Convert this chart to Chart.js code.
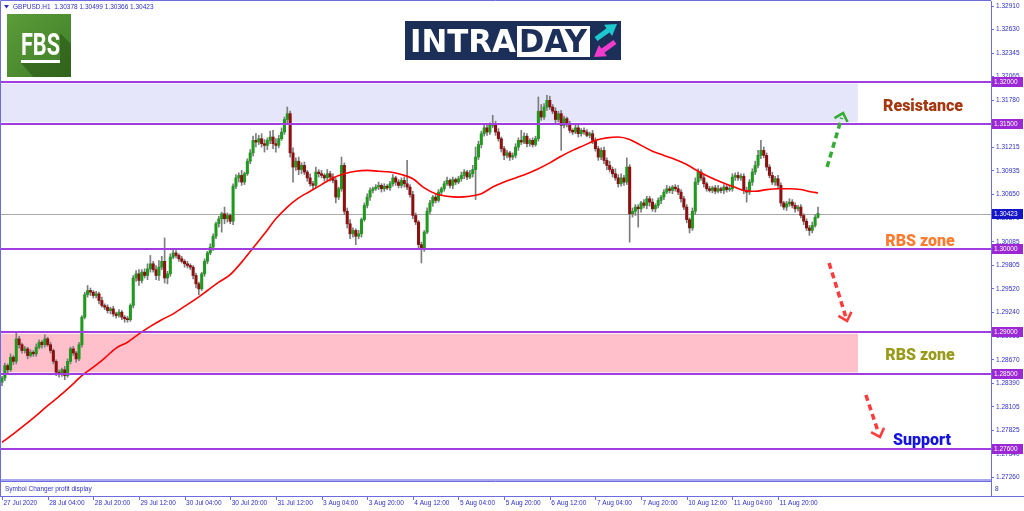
<!DOCTYPE html>
<html>
<head>
<meta charset="utf-8">
<title>GBPUSD H1</title>
<script src="https://cdn.jsdelivr.net/npm/chart.js@4.4.1/dist/chart.umd.min.js"></script>
<style>
  html, body { margin: 0; padding: 0; background: #fff; }
  canvas { display: block; }
</style>
</head>
<body>
<canvas id="chart" width="1024" height="511"></canvas>
<script>
// GBPUSD H1, 27 Jul 12:00 -> 12 Aug 10:00. Prices kept in pips above 1.2700
const BASE = 1.27;
const firstOpen = 140;

const closes = [
  145, 160, 155, 170, 165, 192, 185, 178, 180, 172,
  176, 174, 182, 188, 185, 192, 185, 178, 165, 152,
  150, 155, 148, 165, 180, 175, 168, 185, 218, 245,
  250, 248, 244, 246, 238, 232, 230, 226, 228, 222,
  220, 224, 218, 216, 215, 232, 265, 270, 262, 272,
  268, 276, 282, 275, 268, 278, 285, 265, 270, 290,
  295, 292, 288, 285, 282, 280, 278, 268, 258, 252,
  270, 285, 295, 302, 315, 330, 336, 342, 336, 340,
  333, 375, 385, 388, 380, 390, 405, 415, 430, 428,
  432, 426, 424, 430, 434, 426, 424, 432, 440, 455,
  462, 415, 398, 405, 395, 400, 392, 385, 378, 376,
  392, 390, 388, 385, 390, 386, 382, 362, 372, 400,
  345, 330, 318, 322, 315, 318, 335, 352, 362, 370,
  372, 374, 376, 372, 375, 373, 378, 385, 380, 376,
  382, 378, 374, 365, 340, 332, 305, 300, 320, 345,
  355, 362, 358, 368, 372, 378, 382, 376, 383, 380,
  384, 388, 392, 386, 390, 395, 410, 425, 438, 445,
  440, 448, 450, 440, 432, 420, 412, 415, 410, 412,
  422, 430, 428, 435, 426, 430, 425, 432, 465, 458,
  470, 478, 470, 465, 455, 462, 448, 456, 450, 442,
  440, 445, 438, 442, 440, 436, 438, 430, 420, 410,
  418, 406, 400, 395, 390, 385, 378, 385, 380, 398,
  342, 345, 350, 348, 355, 352, 360, 356, 348, 352,
  358, 362, 368, 372, 370, 374, 372, 368, 360, 350,
  335, 325, 345, 380, 392, 385, 378, 372, 370, 373,
  369, 372, 370, 374, 371, 372, 386, 388, 385, 387,
  370, 368, 380, 392, 400, 412, 418, 412, 398, 388,
  380, 384, 376, 355, 350, 354, 356, 352, 348, 350,
  340, 333, 325, 322, 328, 337.8, 342.3
];

// wick lengths above / below the body, pips
const wickUp = [
  2, 3, 2, 4, 2, 7, 3, 2, 3, 2,
  3, 2, 4, 3, 2, 5, 2, 3, 2, 2,
  3, 2, 4, 3, 2, 3, 2, 3, 2, 3,
  6, 3, 2, 3, 2, 4, 2, 3, 2, 3,
  2, 3, 2, 2, 3, 2, 3, 4, 5, 3,
  4, 6, 10, 3, 5, 8, 6, 28, 3, 4,
  4, 3, 2, 3, 2, 3, 2, 2, 3, 2,
  2, 3, 2, 4, 3, 2, 3, 2, 8, 3,
  2, 3, 4, 3, 6, 2, 3, 4, 5, 8,
  4, 6, 5, 3, 7, 8, 6, 4, 5, 3,
  8, 3, 6, 4, 5, 3, 4, 2, 5, 3,
  6, 3, 4, 2, 5, 3, 4, 3, 2, 10,
  3, 4, 5, 3, 2, 4, 2, 3, 4, 3,
  2, 3, 4, 2, 3, 2, 3, 4, 2, 3,
  3, 4, 28, 3, 4, 3, 2, 3, 2, 4,
  3, 2, 4, 3, 2, 3, 4, 2, 3, 2,
  3, 4, 3, 2, 4, 5, 12, 4, 3, 5,
  4, 3, 10, 3, 4, 2, 3, 3, 2, 3,
  4, 3, 12, 4, 3, 2, 3, 3, 17, 8,
  4, 6, 5, 3, 4, 3, 4, 3, 2, 3,
  2, 4, 3, 2, 3, 3, 2, 4, 3, 3,
  3, 4, 3, 5, 3, 6, 4, 5, 3, 11,
  3, 4, 3, 3, 2, 4, 3, 3, 4, 2,
  3, 2, 3, 4, 3, 2, 3, 4, 3, 3,
  3, 2, 4, 5, 4, 3, 3, 2, 3, 2,
  3, 4, 2, 3, 2, 3, 4, 3, 4, 3,
  3, 4, 3, 4, 5, 6, 12, 4, 3, 3,
  4, 3, 4, 3, 2, 3, 4, 3, 3, 2,
  3, 2, 3, 3, 4, 3, 7.6
];
const wickDown = [
  4, 3, 5, 2, 4, 3, 4, 3, 3, 4,
  2, 3, 3, 2, 4, 3, 2, 3, 3, 4,
  4, 3, 5, 2, 3, 3, 4, 2, 3, 2,
  3, 4, 3, 3, 4, 2, 3, 3, 4, 3,
  3, 2, 3, 4, 3, 2, 3, 4, 6, 3,
  3, 5, 4, 3, 5, 6, 3, 6, 7, 3,
  2, 3, 3, 2, 4, 3, 3, 4, 5, 7,
  2, 3, 3, 2, 4, 3, 4, 16, 6, 4,
  3, 4, 3, 5, 4, 3, 2, 3, 4, 6,
  3, 4, 8, 5, 4, 6, 8, 3, 2, 3,
  4, 5, 18, 4, 6, 5, 3, 4, 3, 5,
  3, 4, 3, 4, 3, 5, 3, 7, 3, 3,
  4, 5, 6, 4, 10, 3, 4, 2, 3, 4,
  3, 2, 3, 4, 3, 2, 3, 3, 4, 3,
  3, 4, 3, 3, 4, 3, 5, 17, 3, 2,
  3, 4, 3, 2, 4, 3, 2, 3, 4, 3,
  2, 3, 4, 3, 2, 4, 36, 3, 4, 3,
  4, 3, 3, 4, 3, 4, 5, 3, 4, 3,
  3, 4, 3, 2, 4, 3, 3, 2, 3, 4,
  3, 4, 3, 3, 4, 3, 30, 3, 4, 3,
  3, 2, 4, 3, 3, 2, 3, 4, 3, 4,
  3, 4, 5, 3, 4, 3, 4, 3, 4, 3,
  34, 4, 5, 22, 4, 3, 4, 5, 3, 4,
  3, 4, 3, 2, 3, 4, 3, 3, 4, 3,
  4, 6, 3, 4, 3, 3, 4, 3, 2, 3,
  3, 2, 3, 4, 3, 2, 3, 4, 3, 3,
  4, 12, 3, 4, 3, 3, 4, 3, 4, 3,
  3, 4, 3, 4, 3, 4, 3, 3, 4, 3,
  3, 4, 3, 6, 3, 2, 1.2
];

// red moving average, sampled every 4 bars (last one on the final bar)
const maStep = 4;
const maVals = [
  68, 78, 89, 100, 112, 123, 135, 148, 158, 169,
  181, 188, 198, 207, 215, 222, 231, 240, 250, 260,
  269, 284, 301, 318, 336, 350, 361, 369, 377, 385,
  390, 393, 394, 393, 392, 389, 384, 373, 366, 363,
  362, 363, 366, 374, 380, 385, 390, 396, 403, 411,
  418, 424, 430, 433, 434, 431, 424, 417, 412, 407,
  401, 393, 386, 380, 375, 370, 369, 371, 372, 372,
  371, 368, 367
];

// one label every 16 bars
const xTickLabels = [
  '27 Jul 2020', '28 Jul 04:00', '28 Jul 20:00', '29 Jul 12:00', '30 Jul 04:00',
  '30 Jul 20:00', '31 Jul 12:00', '3 Aug 04:00', '3 Aug 20:00', '4 Aug 12:00',
  '5 Aug 04:00', '5 Aug 20:00', '6 Aug 12:00', '7 Aug 04:00', '7 Aug 20:00',
  '10 Aug 12:00', '11 Aug 04:00', '11 Aug 20:00'
];
const yTickVals = [
  1.32910, 1.32630, 1.32345, 1.32065, 1.31780, 1.31500, 1.31215, 1.30935, 1.30650,
  1.30370, 1.30085, 1.29805, 1.29520, 1.29240, 1.28955, 1.28670, 1.28390, 1.28105,
  1.27825, 1.27540, 1.27260
];

const levels = [1.32000, 1.31500, 1.30000, 1.29000, 1.28500, 1.27600];
const resistanceZone = [1.31500, 1.32000];
const rbsZone = [1.28500, 1.29000];
const zoneEndBar = 300;

// projected moves: [bar, price] -> [bar, price]
const arrowUp = [[289.2, 1.30981], [294.8, 1.31628]];
const arrowDown1 = [[289.9, 1.29830], [296.2, 1.29135]];
const arrowDown2 = [[302.8, 1.28247], [307.7, 1.27744]];

const px = v => +(BASE + v / 10000).toFixed(5);
const opens = closes.map((c, i) => (i === 0 ? firstOpen : closes[i - 1]));
const isUp = closes.map((c, i) => c >= opens[i]);
const last = closes.length - 1;
const lastClose = px(closes[last]);

const bodyData = closes.map((c, i) => ({ x: i, y: [px(opens[i]), px(c)] }));
const wickData = closes.map((c, i) => ({
  x: i,
  y: [px(Math.min(opens[i], c) - wickDown[i]), px(Math.max(opens[i], c) + wickUp[i])],
}));
const maData = maVals.map((v, k) => ({ x: Math.min(k * maStep, last), y: px(v) }));

const FONT = '"Liberation Sans", Arial, sans-serif';
const TXT = '#2f2fc8';
const AXIS = '#6c6ce0';
const PURPLE = '#a13ee0';

const backdrop = {
  id: 'backdrop',
  beforeDatasetsDraw(chart) {
    const { ctx, chartArea: a, scales: { x, y } } = chart;
    ctx.save();
    ctx.beginPath();
    ctx.rect(a.left, a.top, a.right - a.left, a.bottom - a.top);
    ctx.clip();
    const xe = x.getPixelForValue(zoneEndBar);
    [[resistanceZone, '#e6e6fa'], [rbsZone, '#ffc0cb']].forEach(([z, col]) => {
      const y1 = y.getPixelForValue(z[1]) + 1.5;
      const y2 = y.getPixelForValue(z[0]) - 1.5;
      ctx.fillStyle = col;
      ctx.fillRect(a.left, y1, xe - a.left, y2 - y1);
    });
    const yl = Math.round(y.getPixelForValue(lastClose)) + 0.5;
    ctx.strokeStyle = '#a8a8a8';
    ctx.lineWidth = 1;
    ctx.beginPath();
    ctx.moveTo(a.left, yl);
    ctx.lineTo(a.right, yl);
    ctx.stroke();
    ctx.restore();
  },
  afterDatasetsDraw(chart) {
    const { ctx, chartArea: a, scales: { y } } = chart;
    ctx.save();
    ctx.strokeStyle = PURPLE;
    ctx.lineWidth = 2;
    levels.forEach(p => {
      const yy = Math.round(y.getPixelForValue(p));
      ctx.beginPath();
      ctx.moveTo(a.left, yy);
      ctx.lineTo(a.right, yy);
      ctx.stroke();
    });
    ctx.restore();
  },
};

function dashedArrow(ctx, x1, y1, x2, y2, color) {
  const ang = Math.atan2(y2 - y1, x2 - x1);
  ctx.save();
  ctx.strokeStyle = color;
  ctx.lineWidth = 3.5;
  ctx.setLineDash([6, 4]);
  ctx.beginPath();
  ctx.moveTo(x1, y1);
  ctx.lineTo(x2 - 5 * Math.cos(ang), y2 - 5 * Math.sin(ang));
  ctx.stroke();
  ctx.setLineDash([]);
  ctx.lineWidth = 2.6;
  ctx.beginPath();
  ctx.moveTo(x2 - 10 * Math.cos(ang - 0.75), y2 - 10 * Math.sin(ang - 0.75));
  ctx.lineTo(x2, y2);
  ctx.lineTo(x2 - 10 * Math.cos(ang + 0.75), y2 - 10 * Math.sin(ang + 0.75));
  ctx.stroke();
  ctx.restore();
}

function solidArrow(ctx, x1, y1, x2, y2, color) {
  const ang = Math.atan2(y2 - y1, x2 - x1);
  const c = Math.cos(ang), s = Math.sin(ang);
  ctx.save();
  ctx.strokeStyle = color;
  ctx.fillStyle = color;
  ctx.lineWidth = 5;
  ctx.beginPath();
  ctx.moveTo(x1, y1);
  ctx.lineTo(x2 - 8 * c, y2 - 8 * s);
  ctx.stroke();
  ctx.beginPath();
  ctx.moveTo(x2, y2);
  ctx.lineTo(x2 - 11 * c - 7 * s, y2 - 11 * s + 7 * c);
  ctx.lineTo(x2 - 11 * c + 7 * s, y2 - 11 * s - 7 * c);
  ctx.closePath();
  ctx.fill();
  ctx.restore();
}

function drawFbs(ctx) {
  ctx.save();
  const g = ctx.createLinearGradient(7, 14, 71, 77);
  g.addColorStop(0, '#5c9c3a');
  g.addColorStop(1, '#3f7d26');
  ctx.fillStyle = g;
  ctx.fillRect(7, 14, 64, 63);
  ctx.beginPath();
  ctx.rect(7, 14, 64, 63);
  ctx.clip();
  ctx.fillStyle = 'rgba(30,70,15,0.45)';
  ctx.beginPath();
  ctx.moveTo(21, 63);
  ctx.lineTo(60, 63);
  ctx.lineTo(60, 33);
  ctx.lineTo(80, 53);
  ctx.lineTo(80, 90);
  ctx.lineTo(45, 90);
  ctx.closePath();
  ctx.fill();
  ctx.fillStyle = '#ffffff';
  ctx.font = 'bold 32px Roboto, sans-serif';
  ctx.textBaseline = 'alphabetic';
  ctx.textAlign = 'left';
  ctx.fillText('FBS', 21, 55, 39);
  ctx.fillRect(21, 60, 39, 3);
  ctx.restore();
}

function drawIntraday(ctx) {
  ctx.save();
  ctx.fillStyle = '#1b2f58';
  ctx.fillRect(405, 21, 216, 39);
  ctx.fillStyle = '#ffffff';
  ctx.fillRect(517, 26, 73, 31);
  ctx.font = 'bold 32px "DejaVu Sans", sans-serif';
  ctx.textBaseline = 'alphabetic';
  ctx.textAlign = 'left';
  ctx.fillText('INTRA', 410, 52, 106);
  ctx.fillStyle = '#1b2f58';
  ctx.fillText('DAY', 519, 52, 68);
  solidArrow(ctx, 596, 39, 617, 24, '#1cc9cf');
  solidArrow(ctx, 615, 42, 594, 57, '#f03ccd');
  ctx.restore();
}

const overlay = {
  id: 'overlay',
  afterDraw(chart) {
    const { ctx, chartArea: a, scales: { x, y } } = chart;
    const R = a.right;
    ctx.save();

    // main window frame
    ctx.strokeStyle = AXIS;
    ctx.lineWidth = 1;
    ctx.beginPath();
    ctx.moveTo(0.5, a.bottom);
    ctx.lineTo(0.5, 0.5);
    ctx.lineTo(R, 0.5);
    ctx.stroke();

    // indicator sub-window
    ctx.fillStyle = '#a8a8ee';
    ctx.fillRect(0, a.bottom, R, 2);
    ctx.beginPath();
    ctx.moveTo(0, a.bottom + 2.5);
    ctx.lineTo(R, a.bottom + 2.5);
    ctx.moveTo(0, 496.5);
    ctx.lineTo(1024, 496.5);
    ctx.moveTo(0.5, a.bottom);
    ctx.lineTo(0.5, 496.5);
    ctx.moveTo(R + 0.5, a.bottom);
    ctx.lineTo(R + 0.5, 497);
    ctx.stroke();
    ctx.font = '6.5px ' + FONT;
    ctx.fillStyle = TXT;
    ctx.textBaseline = 'middle';
    ctx.textAlign = 'left';
    ctx.fillText('Symbol Changer profit display', 5, 489);
    ctx.fillText('8', R + 4, 489);

    // time axis tick marks
    ctx.beginPath();
    xTickLabels.forEach((_, k) => {
      const xx = Math.round(x.getPixelForValue(k * 16)) + 0.5;
      ctx.moveTo(xx, 497);
      ctx.lineTo(xx, 500);
    });
    ctx.stroke();

    // price tags on the scale
    const tag = (p, bg) => {
      const yy = Math.round(y.getPixelForValue(p));
      ctx.fillStyle = bg;
      ctx.fillRect(R + 1, yy - 5, 31, 10);
      ctx.fillStyle = '#ffffff';
      ctx.fillText(p.toFixed(5), R + 3, yy + 0.5);
    };
    levels.forEach(p => tag(p, '#9b27d5'));
    tag(lastClose, '#1414c8');

    // header
    ctx.fillStyle = TXT;
    ctx.beginPath();
    ctx.moveTo(4, 5);
    ctx.lineTo(9, 5);
    ctx.lineTo(6.5, 8.5);
    ctx.closePath();
    ctx.fill();
    const hdr = 'GBPUSD.H1  ' + [px(opens[last]), px(closes[last] + wickUp[last]),
      px(Math.min(opens[last], closes[last]) - wickDown[last]), lastClose]
      .map(v => v.toFixed(5)).join(' ');
    ctx.fillText(hdr, 13, 7);

    // projected moves
    const pt = ([b, p]) => [x.getPixelForValue(b), y.getPixelForValue(p)];
    dashedArrow(ctx, ...pt(arrowUp[0]), ...pt(arrowUp[1]), '#35ab35');
    dashedArrow(ctx, ...pt(arrowDown1[0]), ...pt(arrowDown1[1]), '#ff3b3b');
    dashedArrow(ctx, ...pt(arrowDown2[0]), ...pt(arrowDown2[1]), '#ff3b3b');

    // zone captions
    ctx.font = '900 16px Roboto, sans-serif';
    ctx.textAlign = 'center';
    ctx.textBaseline = 'middle';
    ctx.fillStyle = '#a6380f';
    ctx.fillText('Resistance', 923, 107);
    ctx.fillStyle = '#ff7b2e';
    ctx.fillText('RBS zone', 920, 242);
    ctx.fillStyle = '#9a9a1a';
    ctx.fillText('RBS zone', 920, 356);
    ctx.fillStyle = '#1414e0';
    ctx.fillText('Support', 922, 441);

    drawFbs(ctx);
    drawIntraday(ctx);
    ctx.restore();
  },
};

new Chart(document.getElementById('chart'), {
  type: 'bar',
  data: {
    datasets: [
      {
        type: 'line',
        data: maData,
        borderColor: '#ff0000',
        borderWidth: 1.6,
        pointRadius: 0,
        cubicInterpolationMode: 'monotone',
        order: 1,
      },
      {
        data: bodyData,
        backgroundColor: isUp.map(u => (u ? '#1f9a1f' : '#8b1111')),
        barThickness: 2.4,
        minBarLength: 1,
        grouped: false,
        order: 2,
      },
      {
        data: wickData,
        backgroundColor: '#7d7d7d',
        barThickness: 1,
        grouped: false,
        order: 3,
      },
    ],
  },
  options: {
    responsive: false,
    animation: false,
    events: [],
    layout: { padding: { left: 1, top: 1, right: 0, bottom: 0 } },
    plugins: {
      legend: { display: false },
      tooltip: { enabled: false },
    },
    scales: {
      x: {
        type: 'linear',
        min: -0.35,
        max: 346.65,
        offset: false,
        grid: { display: false, drawTicks: false, offset: false },
        border: { display: false },
        afterBuildTicks: s => { s.ticks = xTickLabels.map((_, k) => ({ value: k * 16 })); },
        afterFit: s => { s.height = 32; s.paddingLeft = 0; s.paddingRight = 0; },
        ticks: {
          autoSkip: false,
          maxRotation: 0,
          align: 'start',
          labelOffset: 1.5,
          padding: 20,
          color: TXT,
          font: { family: FONT, size: 6.5 },
          callback: v => xTickLabels[Math.round(v / 16)],
        },
      },
      y: {
        position: 'right',
        min: 1.2724,
        max: 1.32971,
        beginAtZero: false,
        grid: { drawOnChartArea: false, tickLength: 3, color: AXIS },
        border: { display: true, color: AXIS },
        afterBuildTicks: s => { s.ticks = yTickVals.map(v => ({ value: v })); },
        afterFit: s => { s.width = 33; s.paddingTop = 0; s.paddingBottom = 0; },
        ticks: {
          autoSkip: false,
          padding: 2,
          color: TXT,
          font: { family: FONT, size: 6.5 },
          callback: v => v.toFixed(5),
        },
      },
    },
  },
  plugins: [backdrop, overlay],
});
</script>
</body>
</html>
